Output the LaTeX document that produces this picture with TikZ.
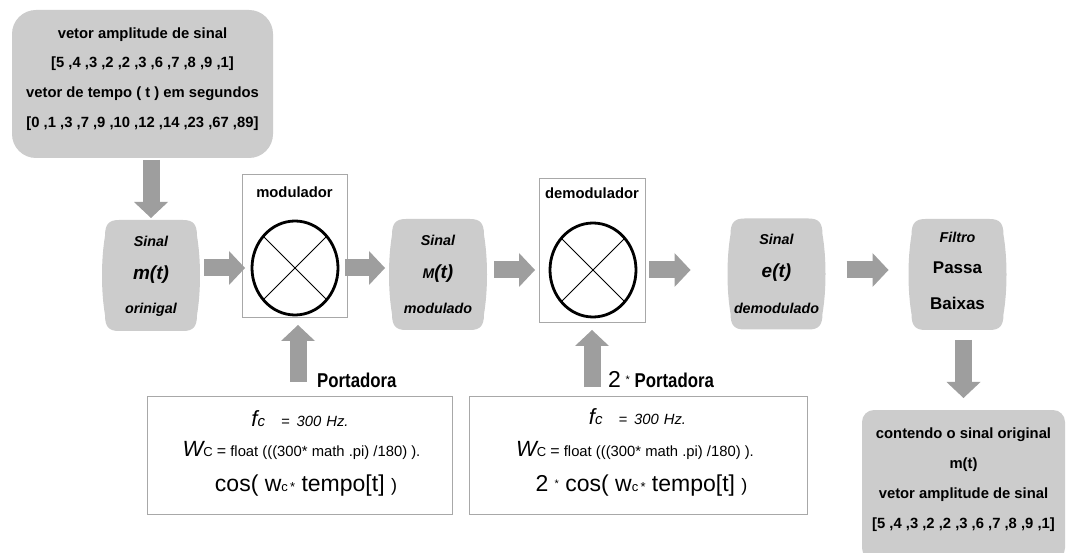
\documentclass[tikz,border=0pt]{standalone}
\usepackage{fontspec}
\setmainfont{Liberation Sans}
\newfontfamily\narrowfont[FakeStretch=0.84]{Liberation Sans}
\usetikzlibrary{arrows.meta,calc,shapes.geometric}
\definecolor{boxgray}{HTML}{CCCCCC}
\definecolor{arrowgray}{HTML}{9E9E9E}
\definecolor{framegray}{HTML}{A8A8A8}
\newcommand\fsz[1]{\fontsize{#1}{#1}\selectfont}
\newcommand\barrel[1]{\fill[boxgray]
 ($(#1.north west)+(14,0)$) -- ($(#1.north east)+(-14,0)$)
 .. controls ($(#1.north east)+(-4,0)$) and ($(#1.north east)+(0,4)$) .. ($(#1.north east)+(0,16)$)
 .. controls ($(#1.north east)+(4,40)$) and ($(#1.south east)+(4,-40)$) .. ($(#1.south east)+(0,-16)$)
 .. controls ($(#1.south east)+(0,-4)$) and ($(#1.south east)+(-4,0)$) .. ($(#1.south east)+(-14,0)$)
 -- ($(#1.south west)+(14,0)$)
 .. controls ($(#1.south west)+(4,0)$) and ($(#1.south west)+(0,-4)$) .. ($(#1.south west)+(0,-16)$)
 .. controls ($(#1.south west)+(-4,-40)$) and ($(#1.north west)+(-4,40)$) .. ($(#1.north west)+(0,16)$)
 .. controls ($(#1.north west)+(0,4)$) and ($(#1.north west)+(4,0)$) .. cycle;}
\begin{document}
\begin{tikzpicture}[x=1pt,y=-1pt,
  sig/.style={minimum width=92pt, minimum height=111pt, inner sep=0pt, outer sep=0pt},
  panel/.style={fill=boxgray, inner sep=0pt, outer sep=0pt},
  frame/.style={draw=framegray, line width=0.9pt, inner sep=0pt, outer sep=0pt},
  mixer/.style={ellipse, draw=black, line width=2.8pt, minimum width=86pt, minimum height=94pt, inner sep=0pt, outer sep=0pt},
  bigarrow/.style={draw=arrowgray, line width=17pt, -{Triangle[width=34pt,length=16pt,line width=0pt]}},
  bt/.style={inner sep=0pt, font=\fsz{14.8}\bfseries},
  bit/.style={inner sep=0pt, font=\fsz{14.3}\bfseries\itshape},
  bigit/.style={inner sep=0pt, font=\fsz{19}\bfseries\itshape},
  big/.style={inner sep=0pt, font=\fsz{17}\bfseries},
  plain/.style={inner sep=0pt, font=\fsz{14.8}},
  port/.style={inner sep=0pt, anchor=west, font=\narrowfont\fsz{20}\bfseries},
]
\fill[white] (0,0) rectangle (1066,553);
\useasboundingbox (0,0) rectangle (1066,553);

% top input panel
\node[panel, rounded corners=24pt, minimum width=261pt, minimum height=148pt] (top) at (142.5,84) {};
\node[bt, align=center, font=\fontsize{14.8}{29.7}\selectfont\bfseries] (toptext) at (142.5,79)
  {vetor amplitude de sinal\\{}[5 ,4 ,3 ,2 ,2 ,3 ,6 ,7 ,8 ,9 ,1]\\vetor de tempo ( t ) em segundos\\{}[0 ,1 ,3 ,7 ,9 ,10 ,12 ,14 ,23 ,67 ,89]};

% signal boxes
\node[sig] (m) at (151,275.5) {};
\node[sig] (M) at (438,274.5) {};
\node[sig] (e) at (776.5,274) {};
\node[sig] (filt) at (957.5,274.5) {};
\barrel{m}
\barrel{M}
\barrel{e}
\barrel{filt}

\node[bit] at (151,241) {Sinal};
\node[bigit] at (151,275) {m(t)};
\node[bit] at (151,310) {orinigal};

\node[bit] at (438,240) {Sinal};
\node[bigit] at (438,274) {{\fsz{14}M}(t)};
\node[bit] at (438,308) {modulado};

\node[bit] at (776.5,239) {Sinal};
\node[bigit] at (776.5,273) {e(t)};
\node[bit] at (776.5,308) {demodulado};

\node[bit] at (957.5,237) {Filtro};
\node[big] at (957.5,268) {Passa};
\node[big] at (957.5,303) {Baixas};

% output panel
\node[panel, rounded corners=12pt, minimum width=203pt, minimum height=150pt] (out) at (963.5,485) {};
\node[bt, align=center, font=\fontsize{14.8}{30}\selectfont\bfseries] (outtext) at (963.5,480)
  {contendo o sinal original\\m(t)\\vetor amplitude de sinal\\{}[5 ,4 ,3 ,2 ,2 ,3 ,6 ,7 ,8 ,9 ,1]};

% modulator / demodulator
\node[frame, minimum width=105pt, minimum height=143pt] (mod) at (294.5,245.5) {};
\node[bt] at (294.5,192) {modulador};
\node[mixer] (mx) at (295,268) {};
\draw[line width=0.9pt] (mx.45) -- (mx.225) (mx.135) -- (mx.315);

\node[frame, minimum width=106pt, minimum height=144pt] (dem) at (592,250) {};
\node[bt] at (592,193) {demodulador};
\node[mixer] (dx) at (593,270) {};
\draw[line width=0.9pt] (dx.45) -- (dx.225) (dx.135) -- (dx.315);

% carrier panels
\node[frame, minimum width=305pt, minimum height=118pt] (p1) at (299.5,455) {};
\node[inner sep=0pt, font=\fsz{14.8}\itshape] at (300,419)
  {{\fsz{22}f}{\fsz{15}c}\hspace{16pt}=\hspace{7pt}300\hspace{5pt}Hz.};
\node[plain] at (301.5,450)
  {{\fsz{22}\itshape W}{\fsz{13}C}\ {\fsz{16}=}\ float (((300* math .pi) /180) ).};
\node[inner sep=0pt, font=\fsz{23}] at (306,486)
  {cos( w{\fsz{13}c\,*}\ tempo[t]\ {\fsz{18})}};

\node[frame, minimum width=338pt, minimum height=118pt] (p2) at (638,455) {};
\node[inner sep=0pt, font=\fsz{14.8}\itshape] at (637.5,417)
  {{\fsz{22}f}{\fsz{15}c}\hspace{16pt}=\hspace{7pt}300\hspace{5pt}Hz.};
\node[plain] at (635,450)
  {{\fsz{22}\itshape W}{\fsz{13}C}\ {\fsz{16}=}\ float (((300* math .pi) /180) ).};
\node[inner sep=0pt, font=\fsz{23}] at (641.5,486)
  {2 \raisebox{4pt}{\fsz{11}*} cos( w{\fsz{13}c\,*}\ tempo[t]\ {\fsz{18})}};

% carrier labels
\node[port] at (317,380) {Portadora};
\node[port] at (608,380) {{\normalfont\fsz{23}2} \raisebox{4pt}{\normalfont\fsz{11}*} Portadora};

% connectors
\coordinate (c1) at ($(mod.south)+(3.5,0)$);
\draw[bigarrow, shorten <=2pt, shorten >=2pt] (top.south -| m.north) -- (m.north);
\draw[bigarrow, shorten <=7pt, shorten >=-3pt] (m.east |- mx.center) -- (mod.west |- mx.center);
\draw[bigarrow, shorten <=-2pt, shorten >=7pt] (mod.east |- mx.center) -- (M.west |- mx.center);
\draw[bigarrow, shorten <=10pt, shorten >=4pt] (M.east |- dx.center) -- (dem.west |- dx.center);
\draw[bigarrow, shorten <=4pt, shorten >=40pt] (dem.east |- dx.center) -- (e.west |- dx.center);
\draw[bigarrow, shorten <=24pt, shorten >=23pt] (e.east |- dx.center) -- (filt.west |- dx.center);
\draw[bigarrow, shorten <=10pt, shorten >=12pt] (filt.south -| out.north) -- (out.north);
\draw[bigarrow, shorten <=14pt, shorten >=8pt] (p1.north -| c1) -- (c1);
\draw[bigarrow, shorten <=9pt, shorten >=8pt] (p2.north -| dem.south) -- (dem.south);
\end{tikzpicture}
\end{document}
